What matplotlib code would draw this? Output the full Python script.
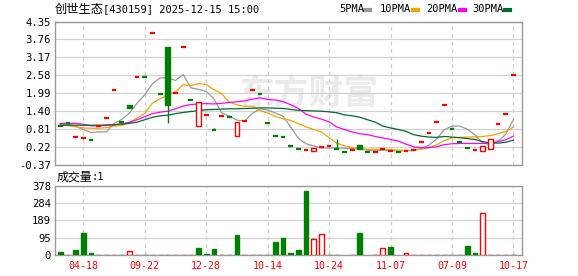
import matplotlib
matplotlib.use('Agg')
import matplotlib.pyplot as plt
import numpy as np
from matplotlib.patches import Rectangle
from matplotlib.lines import Line2D

plt.rcParams['font.family'] = ['DejaVu Sans Mono', 'Noto Sans CJK SC']

# ---- datos ----
titulo = '创世生态[430159] 2025-12-15 15:00'
fechas = ['04-18', '09-22', '12-28', '10-14', '10-24', '11-07', '07-09', '10-17']
idx_fechas = [3, 11, 19, 27, 35, 43, 51, 59]
precio_ticks = [-0.37, 0.22, 0.81, 1.40, 1.99, 2.58, 3.17, 3.76, 4.35]
vol_ticks = [0, 95, 189, 284, 378]

aperturas = [0.92, 1.02, 0.54, 0.52, 0.44, 0.92, 1.17, 2.11, 1.03, 1.60,
             2.52, 2.51, 3.96, 1.97, 3.50, 2.00, 3.51, 1.77, 0.90, 1.27,
             0.77, 1.24, 1.20, 0.60, 1.07, 2.09, 1.98, 1.00, 0.58, 0.55,
             0.27, 0.15, 0.12, 0.10, 0.22, 0.255, 0.155, 0.06, 0.135, 0.28,
             0.07, 0.06, 0.16, 0.10, 0.05, 0.10, 0.14, 0.38, 0.67, 1.06,
             1.60, 0.80, 0.38, 0.18, 0.14, 0.09, 0.15, 0.98, 1.31, 2.58]
cierres = [0.92, 1.02, 0.54, 0.52, 0.44, 0.92, 1.17, 2.11, 1.03, 1.51,
           2.52, 2.51, 3.96, 1.97, 1.59, 2.00, 3.51, 1.77, 1.71, 1.27,
           0.77, 1.24, 1.20, 1.05, 1.07, 2.09, 1.98, 1.00, 0.58, 0.55,
           0.27, 0.15, 0.12, 0.20, 0.22, 0.255, 0.155, 0.06, 0.135, 0.17,
           0.07, 0.06, 0.16, 0.10, 0.05, 0.10, 0.14, 0.38, 0.67, 1.06,
           1.60, 0.80, 0.38, 0.18, 0.14, 0.27, 0.50, 0.98, 1.31, 2.58]
maximos = [0.92, 1.02, 0.54, 0.52, 0.44, 0.92, 1.17, 2.11, 1.03, 1.60,
           2.52, 2.51, 3.96, 1.97, 3.50, 2.00, 3.51, 1.77, 1.71, 1.27,
           0.86, 1.24, 1.20, 1.05, 1.07, 2.09, 1.98, 1.00, 0.58, 0.55,
           0.27, 0.15, 0.12, 0.20, 0.22, 0.255, 0.50, 0.06, 0.135, 0.28,
           0.07, 0.06, 0.16, 0.10, 0.05, 0.10, 0.14, 0.38, 0.67, 1.06,
           1.60, 0.80, 0.38, 0.18, 0.14, 0.27, 0.50, 0.98, 1.31, 2.58]
minimos = [0.92, 1.02, 0.54, 0.52, 0.44, 0.92, 1.17, 2.11, 1.03, 1.51,
           2.52, 2.51, 3.96, 1.97, 1.02, 2.00, 3.51, 1.77, 0.90, 1.27,
           0.77, 1.24, 1.20, 0.60, 1.07, 2.09, 1.98, 1.00, 0.58, 0.55,
           0.27, 0.15, 0.12, 0.10, 0.22, 0.255, 0.155, 0.06, 0.135, 0.17,
           0.07, 0.06, 0.16, 0.10, 0.05, 0.10, 0.14, 0.38, 0.67, 1.06,
           1.60, 0.80, 0.38, 0.18, 0.14, 0.09, 0.15, 0.98, 1.31, 2.58]
# 1 = sube (rojo), 0 = baja (verde)
k_sube = [0, 0, 1, 1, 0, 1, 1, 1, 0, 0, 1, 0, 1, 0, 0, 1, 1, 0, 1, 1,
          0, 1, 0, 1, 1, 1, 0, 0, 0, 0, 0, 0, 1, 1, 1, 1, 0, 0, 1, 0,
          0, 1, 1, 1, 0, 1, 1, 1, 1, 1, 1, 0, 0, 0, 1, 1, 1, 1, 1, 1]

volumen = [16, 1, 27, 120, 11, 1, 1, 1, 1, 22, 1, 1, 1, 1, 1, 1, 1, 1, 38, 7,
           33, 1, 1, 110, 1, 1, 1, 1, 71, 93, 11, 27, 351, 86, 115, 1, 1, 0, 1, 122,
           0, 1, 37, 44, 0, 11, 1, 1, 1, 1, 1, 1, 1, 49, 13, 228, 1, 1, 1, 1]
v_sube = [0, 1, 0, 0, 0, 1, 1, 1, 0, 1, 1, 0, 1, 0, 0, 1, 1, 0, 0, 0,
          0, 1, 0, 0, 1, 1, 0, 0, 0, 0, 0, 0, 0, 1, 1, 1, 0, 0, 1, 0,
          0, 1, 1, 0, 0, 1, 1, 1, 1, 1, 1, 0, 0, 0, 0, 1, 1, 1, 1, 1]

ma5 = [0.98, 0.97, 0.90, 0.80, 0.70, 0.72, 0.72, 1.00, 1.13, 1.34,
       1.67, 1.94, 2.31, 2.49, 2.51, 2.41, 2.61, 2.17, 2.12, 2.05,
       1.81, 1.35, 1.24, 1.11, 1.07, 1.33, 1.48, 1.44, 1.34, 1.24,
       0.88, 0.51, 0.33, 0.26, 0.19, 0.19, 0.19, 0.18, 0.17, 0.16,
       0.12, 0.10, 0.12, 0.11, 0.09, 0.10, 0.12, 0.17, 0.29, 0.49,
       0.79, 0.91, 0.91, 0.81, 0.62, 0.36, 0.30, 0.42, 0.64, 1.13]
ma10 = [0.95, 0.93, 0.89, 0.85, 0.84, 0.84, 0.86, 0.91, 0.93, 1.02,
        1.18, 1.33, 1.67, 1.81, 1.93, 2.04, 2.27, 2.24, 2.31, 2.28,
        2.11, 1.98, 1.70, 1.61, 1.56, 1.57, 1.42, 1.34, 1.23, 1.15,
        1.10, 0.99, 0.89, 0.80, 0.72, 0.53, 0.35, 0.26, 0.21, 0.17,
        0.15, 0.15, 0.15, 0.14, 0.12, 0.11, 0.11, 0.15, 0.20, 0.29,
        0.44, 0.52, 0.54, 0.55, 0.56, 0.57, 0.60, 0.66, 0.73, 0.88]
ma20 = [1.00, 1.00, 1.00, 0.97, 0.92, 0.92, 0.93, 0.95, 0.98, 1.04,
        1.12, 1.22, 1.32, 1.37, 1.40, 1.48, 1.57, 1.62, 1.64, 1.65,
        1.64, 1.66, 1.69, 1.71, 1.74, 1.80, 1.84, 1.79, 1.77, 1.72,
        1.61, 1.49, 1.30, 1.21, 1.14, 1.05, 0.88, 0.80, 0.72, 0.66,
        0.63, 0.57, 0.52, 0.47, 0.42, 0.32, 0.23, 0.20, 0.21, 0.23,
        0.30, 0.33, 0.34, 0.34, 0.34, 0.34, 0.36, 0.40, 0.46, 0.58]
ma30 = [0.94, 0.94, 0.94, 0.94, 0.94, 0.94, 0.95, 0.96, 0.98, 1.00,
        1.04, 1.12, 1.20, 1.25, 1.27, 1.32, 1.36, 1.39, 1.42, 1.45,
        1.46, 1.47, 1.48, 1.48, 1.49, 1.50, 1.51, 1.51, 1.50, 1.49,
        1.46, 1.43, 1.42, 1.41, 1.40, 1.38, 1.35, 1.28, 1.25, 1.20,
        1.12, 1.04, 0.91, 0.85, 0.80, 0.74, 0.63, 0.58, 0.55, 0.54,
        0.57, 0.55, 0.53, 0.50, 0.47, 0.40, 0.36, 0.35, 0.38, 0.45]

ROJO = '#ff0000'
VERDE = '#008000'
colores_ma = ['#999999', '#f5a300', '#ff00ff', '#006b2d']
nombres_ma = ['5PMA', '10PMA', '20PMA', '30PMA']
MARCO = '#999999'
REJILLA = '#d2d2d2'


def preparar_eje(ax, ticks):
    for s in ax.spines.values():
        s.set_color(MARCO)
        s.set_linewidth(1.0)
    ax.set_xlim(-0.65, 60.16)
    ax.set_yticks(ticks)
    ax.set_yticklabels([f'{t:g}' if isinstance(t, int) else f'{t:.2f}' for t in ticks])
    ax.set_xticks(idx_fechas)
    ax.tick_params(length=0, labelsize=7.6, pad=3)
    ax.yaxis.grid(True, color=REJILLA, lw=0.9, ls='-')
    ax.xaxis.grid(True, color='#cccccc', lw=0.9, ls=(0, (3, 3)))
    ax.set_axisbelow(True)


if __name__ == '__main__':
    fig = plt.figure(figsize=(5.78, 2.76), dpi=100)
    ax1 = fig.add_axes([0.0957, 0.402, 0.808, 0.520])
    ax2 = fig.add_axes([0.0957, 0.0761, 0.808, 0.250])

    # marca de agua
    ax1.text(0.545, 0.50, '东方财富', transform=ax1.transAxes, fontsize=25,
             family='Noto Sans CJK SC', fontweight='bold', color='#eaeaee',
             ha='center', va='center', zorder=0)

    preparar_eje(ax1, precio_ticks)
    ax1.set_ylim(-0.37, 4.35)
    ax1.set_xticklabels([])

    x = np.arange(len(cierres))
    for m, c in zip([ma5, ma10, ma20, ma30], colores_ma):
        ax1.plot(x, m, color=c, lw=0.9, zorder=2)

    ancho = 0.62
    for i in x:
        o, c = aperturas[i], cierres[i]
        col = ROJO if k_sube[i] else VERDE
        lo, hi = min(o, c), max(o, c)
        if maximos[i] > hi or minimos[i] < lo:
            ax1.vlines(i, minimos[i], maximos[i], color=col, lw=1, zorder=3)
        if hi - lo < 0.02:
            ax1.hlines(c, i - ancho / 2, i + ancho / 2, color=col, lw=1.6, zorder=4)
        elif k_sube[i]:
            ax1.add_patch(Rectangle((i - ancho / 2, lo), ancho, hi - lo,
                                    facecolor='white', edgecolor=col, lw=1, zorder=4))
        else:
            ax1.add_patch(Rectangle((i - ancho / 2, lo), ancho, hi - lo,
                                    facecolor=col, edgecolor=col, lw=1, zorder=4))

    # volumen
    preparar_eje(ax2, vol_ticks)
    ax2.set_ylim(0, 378)
    ax2.set_xticklabels(fechas, color=ROJO)
    ax2.tick_params(axis='x', pad=4, labelsize=7.2)
    for i in x:
        if volumen[i] <= 0:
            continue
        if v_sube[i]:
            ax2.bar(i, volumen[i], width=ancho, facecolor='white', edgecolor=ROJO, lw=1, zorder=3)
        else:
            ax2.bar(i, volumen[i], width=ancho, facecolor=VERDE, edgecolor=VERDE, lw=1, zorder=3)

    # textos de cabecera
    nombre, resto = titulo.split('[', 1)
    fig.text(55 / 578, 1 - 9 / 276, nombre, fontsize=8.8, family='Noto Sans CJK SC',
             ha='left', va='center')
    fig.text(103 / 578, 1 - 9 / 276, '[' + resto, fontsize=7.5, ha='left', va='center')
    fig.text(57 / 578, 1 - 177 / 276, '成交量', fontsize=8.6, family='Noto Sans CJK SC',
             ha='left', va='center')
    fig.text(92 / 578, 1 - 177 / 276, ':' + str(volumen[-1]), fontsize=7.5,
             ha='left', va='center')
    pos_txt = [339, 380, 426, 472]
    pos_raya = [365, 413, 460, 505]
    for nombre_ma, c, px, pr in zip(nombres_ma, colores_ma, pos_txt, pos_raya):
        fig.text(px / 578, 1 - 9 / 276, nombre_ma, fontsize=7.5, ha='left', va='center')
        fig.add_artist(Line2D([pr / 578, (pr + 5) / 578], [1 - 10 / 276] * 2, color=c, lw=3))

    fig.savefig('out.png', dpi=100)
